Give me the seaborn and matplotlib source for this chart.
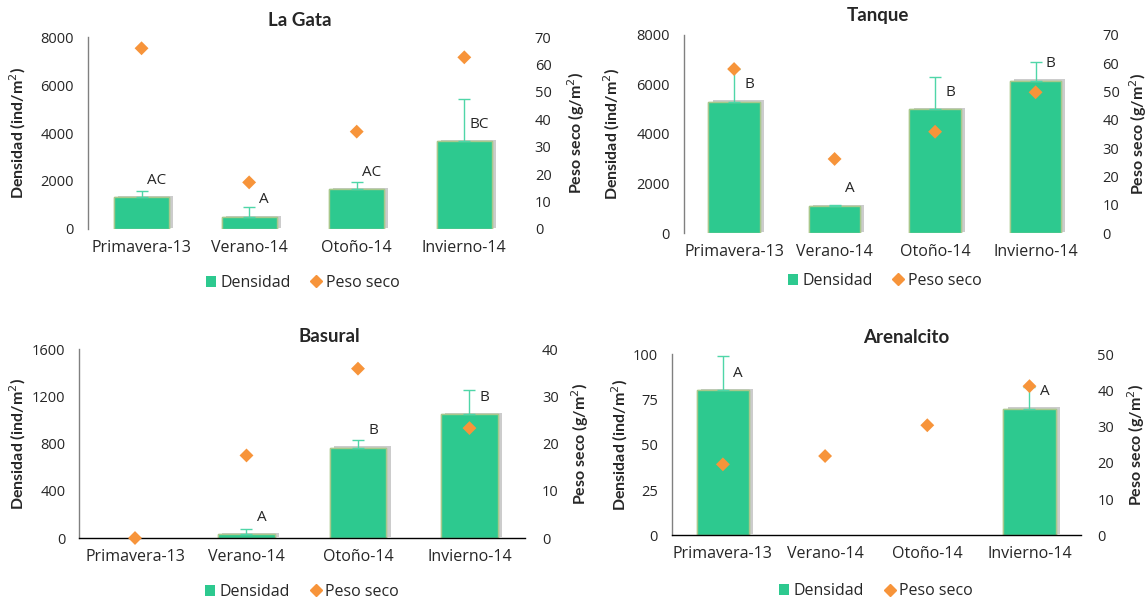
import matplotlib
matplotlib.use("Agg")
import matplotlib.pyplot as plt
import matplotlib.patheffects as pe
from matplotlib.patches import Patch
from matplotlib.lines import Line2D
import seaborn as sns
import numpy as np
import pandas as pd

seasons = ["Primavera-13", "Verano-14", "Otoño-14", "Invierno-14"]

# densidad (ind/m2), upper error, peso seco (g/m2), letras
gata_dens = [1330, 500, 1650, 3650]
gata_err = [250, 420, 310, 1750]
gata_peso = [65.9, 17.0, 35.5, 62.6]
gata_letters = ["AC", "A", "AC", "BC"]

tanque_dens = [5300, 1100, 5000, 6150]
tanque_err = [1300, 50, 1300, 750]
tanque_peso = [57.9, 26.2, 35.8, 49.7]
tanque_letters = ["B", "A", "B", "B"]

basural_dens = [0, 30, 765, 1050]
basural_err = [0, 45, 65, 205]
basural_peso = [0.0, 17.5, 35.9, 23.3]
basural_letters = ["", "A", "B", "B"]

aren_dens = [80, np.nan, np.nan, 70]
aren_err = [19, np.nan, np.nan, 12]
aren_peso = [19.6, 21.9, 30.4, 41.2]
aren_letters = ["A", "", "", "A"]

GREEN = "#2dc98f"
ORANGE = "#f7943a"
ERR = "#4fd6a8"

sns.set_style("white")
plt.rcParams["font.family"] = ["Open Sans", "DejaVu Sans"]
BOLD = ["Lato", "DejaVu Sans"]
FS = 11.5


def draw_panel(ax, title, dens, err, peso, letters, dticks, pticks,
               pos, title_x, title_pad, ylab_l, ylab_r, leg_y, bottom_line):
    ax.set_position(pos)
    df = pd.DataFrame({"season": seasons, "dens": dens})
    sns.barplot(data=df, x="season", y="dens", color=GREEN, width=0.51,
                saturation=1, edgecolor="#a8c88c", linewidth=1, ax=ax)
    for bar in ax.patches:
        if not bar.get_height() > 0:
            bar.set_visible(False)
        bar.set_path_effects([pe.withSimplePatchShadow(offset=(3, 1), shadow_rgbFace="#808080", alpha=0.4),
                              pe.Normal()])
    x = np.arange(len(seasons))
    d = np.array(dens, dtype=float)
    e = np.array(err, dtype=float)
    ok = ~np.isnan(d) & (np.nan_to_num(e) > 0)
    ax.errorbar(x[ok], d[ok], yerr=[np.zeros(ok.sum()), e[ok]], fmt="none",
                ecolor=ERR, elinewidth=1, capsize=4, capthick=1)
    for i, lab in enumerate(letters):
        if lab:
            ax.annotate(lab, (i, d[i]), xytext=(15, 17), textcoords="offset pixels",
                        ha="center", va="center", fontsize=11)
    ax.set_ylim(dticks[0], dticks[-1])
    ax.set_yticks(dticks)
    ax.set_xlim(-0.5, len(seasons) - 0.5)
    ax.set_xlabel("")
    ax.set_ylabel("Densidad (ind/m$^2$)", fontweight="bold", fontsize=FS, family=BOLD)
    ax.yaxis.set_label_coords(ylab_l, 0.5)
    ax.tick_params(axis="both", length=0)
    ax.tick_params(axis="y", pad=10, labelsize=10.5)
    ax.tick_params(axis="x", pad=8, labelsize=FS)
    sns.despine(ax=ax, top=True, right=True, bottom=not bottom_line)
    ax.spines["left"].set_color("#808080")
    ax.spines["left"].set_linewidth(1)
    if bottom_line:
        ax.spines["bottom"].set_color("#000000")
        ax.spines["bottom"].set_linewidth(1)
    ax.set_title(title, x=title_x, pad=title_pad, fontweight="bold", fontsize=13.5, family=BOLD)

    ax2 = ax.twinx()
    sns.scatterplot(x=x, y=peso, marker="D", s=50, color=ORANGE,
                    edgecolor="none", ax=ax2, zorder=5, clip_on=False)
    ax2.set_ylim(pticks[0], pticks[-1])
    ax2.set_yticks(pticks)
    ax2.set_ylabel("Peso seco (g/m$^2$)", fontweight="bold", fontsize=FS, family=BOLD)
    ax2.yaxis.set_label_coords(ylab_r, 0.5)
    ax2.tick_params(axis="y", length=0, labelsize=10.5, pad=12)
    for s in ax2.spines.values():
        s.set_visible(False)

    handles = [Patch(facecolor=GREEN, edgecolor="none", label="Densidad"),
               Line2D([], [], marker="D", color=ORANGE, linestyle="none",
                      markersize=6.5, label="Peso seco")]
    ax.legend(handles=handles, loc="center", bbox_to_anchor=(0.5, leg_y), ncol=2,
              frameon=False, fontsize=FS, handlelength=0.6, handleheight=0.7,
              handletextpad=0.3, columnspacing=1.3)


fig = plt.figure(figsize=(11.47, 6.01), dpi=100)
ax_a = fig.add_axes([0, 0, 1, 1])
ax_b = fig.add_axes([0, 0, 1, 1])
ax_c = fig.add_axes([0, 0, 1, 1])
ax_d = fig.add_axes([0, 0, 1, 1])

draw_panel(ax_a, "La Gata", gata_dens, gata_err, gata_peso, gata_letters,
           [0, 2000, 4000, 6000, 8000], [0, 10, 20, 30, 40, 50, 60, 70],
           [0.0765, 0.619, 0.3752, 0.3194], 0.4926, 8, -0.138, 1.110, -0.28, False)
draw_panel(ax_b, "Tanque", tanque_dens, tanque_err, tanque_peso, tanque_letters,
           [0, 2000, 4000, 6000, 8000], [0, 10, 20, 30, 40, 50, 60, 70],
           [0.5962, 0.6118, 0.3505, 0.3305], 0.482, 10, -0.155, 1.102, -0.24, False)
draw_panel(ax_c, "Basural", basural_dens, basural_err, basural_peso, basural_letters,
           [0, 400, 800, 1200, 1600], [0, 10, 20, 30, 40],
           [0.0691, 0.1048, 0.3888, 0.3140], 0.5605, 5, -0.114, 1.098, -0.285, True)
draw_panel(ax_d, "Arenalcito", aren_dens, aren_err, aren_peso, aren_letters,
           [0, 25, 50, 75, 100], [0, 10, 20, 30, 40, 50],
           [0.5857, 0.1093, 0.3564, 0.3012], 0.573, 8, -0.1015, 1.109, -0.31, True)

fig.savefig("out.png", dpi=100)
